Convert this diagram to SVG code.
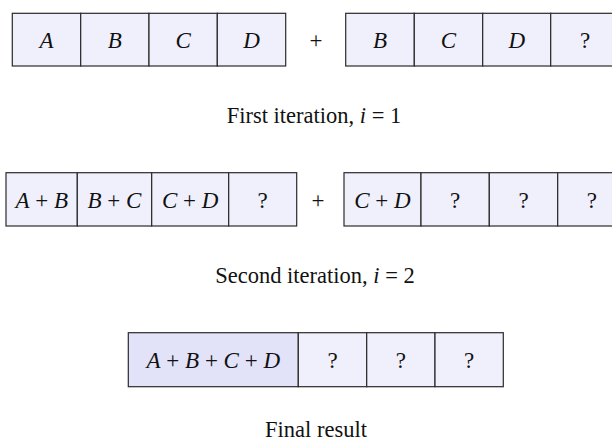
<svg xmlns="http://www.w3.org/2000/svg" width="612" height="444" viewBox="0 0 612 444">
<style>
.c{fill:#f0f0fc;stroke:#2a2a2a;stroke-width:1.2}
.d{fill:#e2e2f8;stroke:#2a2a2a;stroke-width:1.2}
.m{font-family:"Liberation Serif","Times New Roman",serif;font-size:23px;font-style:italic;text-anchor:middle;fill:#111}
.u{font-family:"Liberation Serif","Times New Roman",serif;font-size:23px;text-anchor:middle;fill:#111}
.cap{font-family:"Liberation Serif","Times New Roman",serif;font-size:22.5px;text-anchor:middle;fill:#111}
</style>
<rect width="612" height="444" fill="#fff"/>
<g id="row1-left">
<rect class="c" x="12.3" y="13.3" width="68.4" height="52.7"/>
<rect class="c" x="80.7" y="13.3" width="68.3" height="52.7"/>
<rect class="c" x="149" y="13.3" width="68.3" height="52.7"/>
<rect class="c" x="217.3" y="13.3" width="68.4" height="52.7"/>
<text class="m" x="46.5" y="47.5">A</text>
<text class="m" x="114.8" y="47.5">B</text>
<text class="m" x="183.2" y="47.5">C</text>
<text class="m" x="251.5" y="47.5">D</text>
</g>
<g id="plus1"><text class="u" x="316" y="47.5">+</text></g>
<g id="row1-right">
<rect class="c" x="345.7" y="13.3" width="68.6" height="52.7"/>
<rect class="c" x="414.3" y="13.3" width="68.4" height="52.7"/>
<rect class="c" x="482.7" y="13.3" width="68" height="52.7"/>
<rect class="c" x="550.7" y="13.3" width="68.4" height="52.7"/>
<text class="m" x="380" y="47.5">B</text>
<text class="m" x="448.5" y="47.5">C</text>
<text class="m" x="516.7" y="47.5">D</text>
<text class="u" x="585" y="47.5">?</text>
</g>
<g id="caption1"><text class="cap" x="314" y="123">First iteration, <tspan font-style="italic">i</tspan> = 1</text></g>
<g id="row2-left">
<rect class="c" x="6" y="172.7" width="71.3" height="53.3"/>
<rect class="c" x="77.3" y="172.7" width="74.4" height="53.3"/>
<rect class="c" x="151.7" y="172.7" width="77" height="53.3"/>
<rect class="c" x="228.7" y="172.7" width="68" height="53.3"/>
<text class="m" x="41.7" y="207.5">A<tspan font-style="normal"> + </tspan>B</text>
<text class="m" x="114.5" y="207.5">B<tspan font-style="normal"> + </tspan>C</text>
<text class="m" x="190.2" y="207.5">C<tspan font-style="normal"> + </tspan>D</text>
<text class="u" x="262.7" y="207.5">?</text>
</g>
<g id="plus2"><text class="u" x="318" y="207.5">+</text></g>
<g id="row2-right">
<rect class="c" x="344" y="172.7" width="77" height="53.3"/>
<rect class="c" x="421" y="172.7" width="68.3" height="53.3"/>
<rect class="c" x="489.3" y="172.7" width="68.4" height="53.3"/>
<rect class="c" x="557.7" y="172.7" width="68.3" height="53.3"/>
<text class="m" x="382.5" y="207.5">C<tspan font-style="normal"> + </tspan>D</text>
<text class="u" x="455.2" y="207.5">?</text>
<text class="u" x="523.5" y="207.5">?</text>
<text class="u" x="591.8" y="207.5">?</text>
</g>
<g id="caption2"><text class="cap" x="315" y="283">Second iteration, <tspan font-style="italic">i</tspan> = 2</text></g>
<g id="row3">
<rect class="d" x="128.3" y="332.7" width="170" height="54"/>
<rect class="c" x="298.3" y="332.7" width="68.4" height="54"/>
<rect class="c" x="366.7" y="332.7" width="68.3" height="54"/>
<rect class="c" x="435" y="332.7" width="68.3" height="54"/>
<text class="m" x="213.3" y="367.5">A<tspan font-style="normal"> + </tspan>B<tspan font-style="normal"> + </tspan>C<tspan font-style="normal"> + </tspan>D</text>
<text class="u" x="332.5" y="367.5">?</text>
<text class="u" x="400.8" y="367.5">?</text>
<text class="u" x="469.2" y="367.5">?</text>
</g>
<g id="caption3"><text class="cap" x="316" y="437">Final result</text></g>
</svg>
